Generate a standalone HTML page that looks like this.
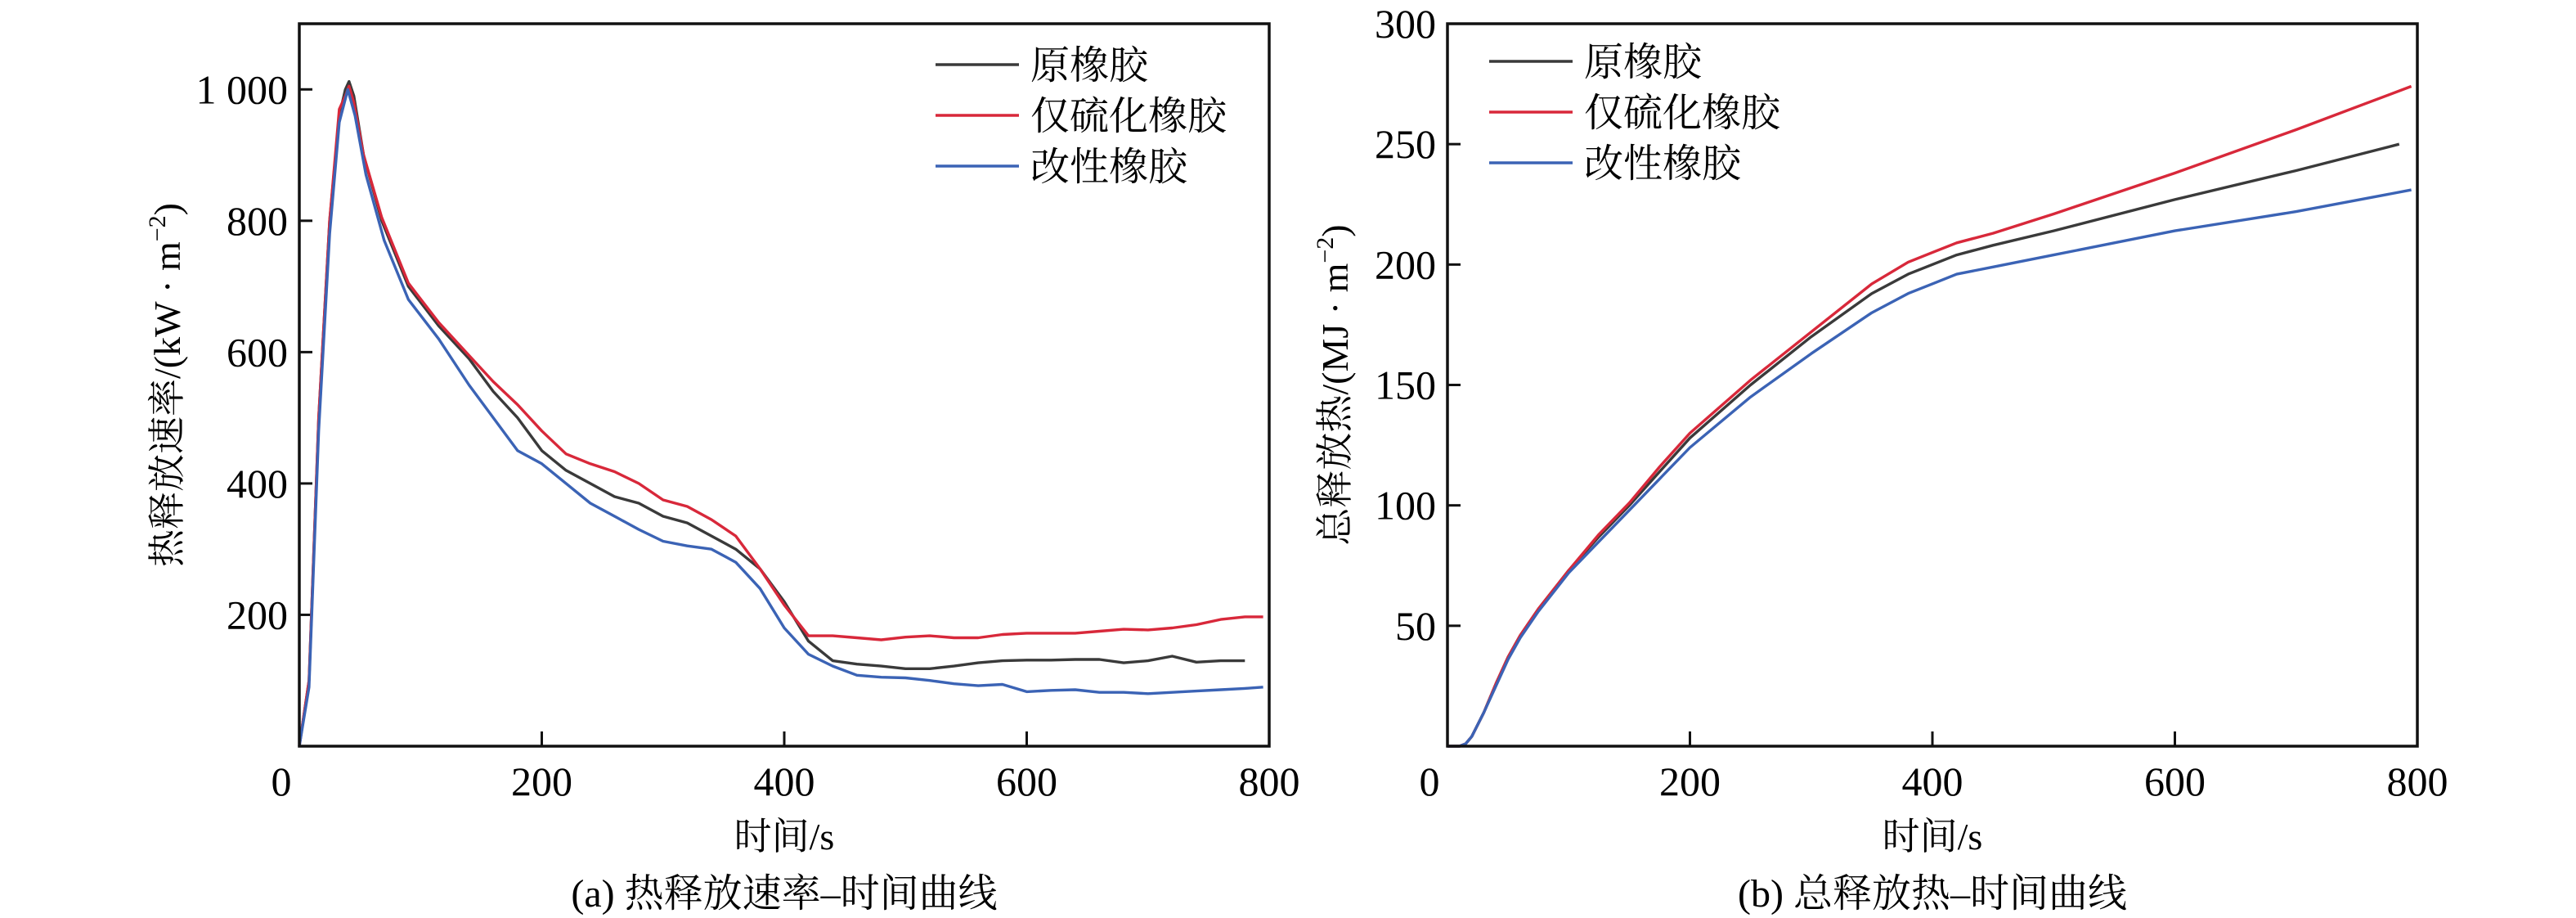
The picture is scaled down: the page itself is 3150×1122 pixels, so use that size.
<!DOCTYPE html>
<html><head><meta charset="utf-8">
<style>
html,body{margin:0;padding:0;background:#fff;}
svg{display:block;font-family:"Liberation Serif","Noto Serif CJK SC","Noto Sans CJK SC",serif;}
</style></head>
<body>
<svg id="fig" width="3150" height="1122" viewBox="0 0 3150 1122" xmlns="http://www.w3.org/2000/svg"></svg>
<script>
// ----- Chart (a): heat release rate -----
const hrrTime = [0,8,16,25,33,38,41,45,53,68,90,115,140,160,180,200,220,240,260,280,300,320,340,360,380,400,420,440,460,480,500,520,540,560,580,600,620,640,660,680,700,720,740,760,780];
const hrrRaw = [0,100,500,800,960,1000,1012,990,900,800,700,640,590,540,500,450,420,400,380,370,350,340,320,300,270,220,160,130,125,122,118,118,122,127,130,131,131,132,132,127,130,137,128,130,130];
const hrrSulfTime = [0,8,16,25,33,38,41,45,53,68,90,115,140,160,180,200,220,240,260,280,300,320,340,360,380,400,420,440,460,480,500,520,540,560,580,600,620,640,660,680,700,720,740,760,780,795];
const hrrSulf = [0,100,500,800,970,990,1005,980,900,805,705,645,595,555,520,480,445,430,418,400,375,365,345,320,270,215,168,168,165,162,166,168,165,165,170,172,172,172,175,178,177,180,185,193,197,197];
const hrrModTime = [0,8,16,25,33,40,46,55,70,90,115,140,160,180,200,220,240,260,280,300,320,340,360,380,400,420,440,460,480,500,520,540,560,580,600,620,640,660,680,700,720,740,760,780,795];
const hrrMod = [0,90,480,780,950,1000,960,870,770,680,620,550,500,450,430,400,370,350,330,312,305,300,280,240,180,140,122,108,105,104,100,95,92,94,83,85,86,82,82,80,82,84,86,88,90];
const hrrYTicks = [200,400,600,800,1000];
const hrrYLabels = ["200","400","600","800","1 000"];
const xTicks = [0,200,400,600,800];
const xTickLabels = ["0","200","400","600","800"];
// ----- Chart (b): total heat release -----
const thrRawTime = [0,10,15,20,30,40,50,60,75,100,125,150,175,200,250,300,350,380,400,420,450,500,600,700,785];
const thrRaw = [0,0,1,4,14,26,37,46,57,73,87,100,114,128,150,170,188,196,200,204,208,214,227,239,250];
const thrSulfTime = [0,10,15,20,30,40,50,60,75,100,125,150,175,200,250,300,350,380,400,420,450,500,600,700,795];
const thrSulf = [0,0,1,4,14,26,37,46,57,73,88,101,116,130,152,172,192,201,205,209,213,221,238,256,274];
const thrModTime = [0,10,15,20,30,40,50,60,75,100,125,150,175,200,250,300,350,380,400,420,450,500,600,700,795];
const thrMod = [0,0,1,4,14,25,36,45,56,72,85,98,111,124,145,163,180,188,192,196,199,204,214,222,231];
const thrYTicks = [50,100,150,200,250,300];
const thrYLabels = ["50","100","150","200","250","300"];
const seriesNames = ["原橡胶","仅硫化橡胶","改性橡胶"];
const colors = ["#3a3a3a","#d8283a","#3b63b5"];

const NS="http://www.w3.org/2000/svg";
const svg=document.getElementById('fig');
function mk(tag,attrs,parent,text){const e=document.createElementNS(NS,tag);for(const k in attrs)e.setAttribute(k,attrs[k]);if(text!==undefined)e.textContent=text;(parent||svg).appendChild(e);return e;}

function chart(opt){
  const g=mk('g',{});
  
  
  const L=opt.x0,R=opt.x1,T=29,B=912;
  const sx=v=>L+(v/800)*(R-L);
  const sy=v=>B-(v/opt.ymax)*(B-T);
  xTicks.forEach((t,i)=>{
    if(t>0&&t<800){const tk=mk('line',{x1:sx(t),x2:sx(t),y1:B,y2:B-18,stroke:'#111','stroke-width':3},g);
    }
    const lb=mk('text',{x:sx(t)-(t===0?22:0),y:972,'font-size':50,'text-anchor':'middle'},g,xTickLabels[i]);
    
  });
  opt.yt.forEach((t,i)=>{
    if(t<opt.ymax){const tk=mk('line',{x1:L,x2:L+16,y1:sy(t),y2:sy(t),stroke:'#111','stroke-width':3},g);
    }
    const lb=mk('text',{x:L-14,y:sy(t)+17,'font-size':50,'text-anchor':'end'},g,opt.yl[i]);
    
  });
  opt.series.forEach((s,k)=>{
    const d=s.t.map((t,i)=>(i?'L':'M')+sx(t).toFixed(1)+','+sy(s.v[i]).toFixed(1)).join(' ');
    const p=mk('path',{d:d,fill:'none',stroke:colors[k],'stroke-width':3.4,'stroke-linejoin':'round'},g);
    
    
  });
  const fr=mk('rect',{x:L,y:T,width:R-L,height:B-T,fill:'none',stroke:'#111','stroke-width':3.5},g);
  
  seriesNames.forEach((n,k)=>{
    const y=opt.lgY+k*opt.lgStep;
    const ln=mk('line',{x1:opt.lgX,x2:opt.lgX+102,y1:y,y2:y,stroke:colors[k],'stroke-width':3.4},g);
    
    const tx=mk('text',{x:opt.lgX+116,y:y+17,'font-size':48},g,n);
    
  });
  const xt=mk('text',{x:(L+R)/2,y:1038,'font-size':46,'text-anchor':'middle'},g,'时间/s');
  
  const yt=mk('text',{x:0,y:0,'font-size':46,'text-anchor':'middle',transform:'translate('+(opt.ytX)+','+((T+B)/2)+') rotate(-90)'},g);
  
  yt.appendChild(document.createTextNode(opt.ytitle+'/('+opt.unit+' · m'));
  mk('tspan',{dy:-18,'font-size':30},yt,'−2');
  mk('tspan',{dy:18},yt,')');
  const cap=mk('text',{x:(L+R)/2,y:1108,'font-size':48,'text-anchor':'middle'},g,opt.caption);
  
}
chart({name:'hrr-chart',x0:366,x1:1552,ymax:1100,yt:hrrYTicks,yl:hrrYLabels,
  series:[{t:hrrTime,v:hrrRaw},{t:hrrSulfTime,v:hrrSulf},{t:hrrModTime,v:hrrMod}],
  lgX:1144,lgY:79,lgStep:62,ytX:220,ytitle:'热释放速率',unit:'kW',caption:'(a) 热释放速率–时间曲线'});
chart({name:'thr-chart',x0:1770,x1:2956,ymax:300,yt:thrYTicks,yl:thrYLabels,
  series:[{t:thrRawTime,v:thrRaw},{t:thrSulfTime,v:thrSulf},{t:thrModTime,v:thrMod}],
  lgX:1821,lgY:75,lgStep:62,ytX:1648,ytitle:'总释放热',unit:'MJ',caption:'(b) 总释放热–时间曲线'});
</script>
</body></html>
